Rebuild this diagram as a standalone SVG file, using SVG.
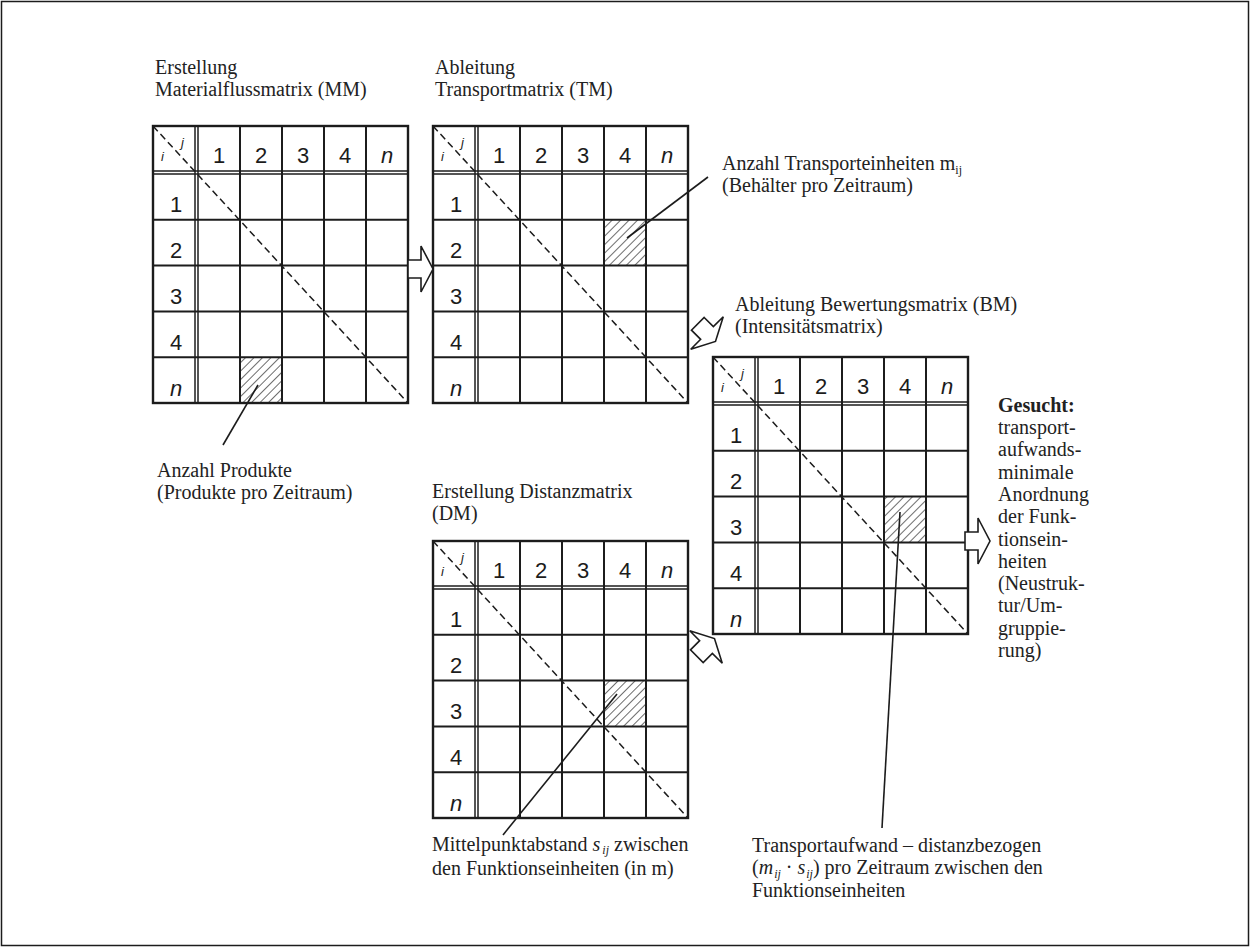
<svg xmlns="http://www.w3.org/2000/svg" xmlns:xlink="http://www.w3.org/1999/xlink" width="1250" height="947" viewBox="0 0 1250 947">
<style>
.grid{fill:none;stroke:#1c1c1c;stroke-width:2}
.thin{stroke:#1c1c1c;stroke-width:1.5}
.diag{stroke:#1c1c1c;stroke-width:1.5;stroke-dasharray:7 4;fill:none}
.num{font-family:"Liberation Sans",Arial,sans-serif;font-size:22px;fill:#1c1c1c;text-anchor:middle}
.it{font-style:italic}
.ij{font-family:"Liberation Sans",Arial,sans-serif;font-size:13px;font-style:italic;fill:#1c1c1c}
.lbl{font-family:"Liberation Serif","Times New Roman",serif;font-size:20px;fill:#222}
.sub{font-size:12px;font-style:italic}
.lead{stroke:#1c1c1c;stroke-width:1.6;fill:none}
.barrow{fill:#fff;stroke:#1c1c1c;stroke-width:1.6;stroke-linejoin:miter}
.hatch{fill:url(#hp);stroke:none}
</style>
<defs>
<pattern id="hp" patternUnits="userSpaceOnUse" width="6" height="6" patternTransform="rotate(45)">
<line x1="0" y1="0" x2="0" y2="6" stroke="#1c1c1c" stroke-width="1.3"/>
</pattern>
<path id="barr" d="M-13,-9 L0,-9 L0,-23 L12,0 L0,23 L0,9 L-13,9 Z"/>
<g id="mx">
<rect x="0" y="0" width="255" height="277" fill="#fff" stroke="none"/>
<g class="thin">
<line x1="42" y1="0" x2="42" y2="277"/>
<line x1="45" y1="0" x2="45" y2="277"/>
<line x1="0" y1="45" x2="255" y2="45"/>
<line x1="0" y1="48" x2="255" y2="48"/>
</g>
<g class="grid">
<line x1="87" y1="0" x2="87" y2="277"/>
<line x1="129" y1="0" x2="129" y2="277"/>
<line x1="171" y1="0" x2="171" y2="277"/>
<line x1="213" y1="0" x2="213" y2="277"/>
<line x1="0" y1="93.8" x2="255" y2="93.8"/>
<line x1="0" y1="139.6" x2="255" y2="139.6"/>
<line x1="0" y1="185.4" x2="255" y2="185.4"/>
<line x1="0" y1="231.2" x2="255" y2="231.2"/>
<rect x="0" y="0" width="255" height="277" stroke-width="2.4"/>
</g>
<line class="diag" x1="0" y1="0" x2="255" y2="277"/>
<text class="ij" x="28" y="21">j</text>
<text class="ij" x="8" y="35">i</text>
<text class="num" x="66" y="37">1</text>
<text class="num" x="108" y="37">2</text>
<text class="num" x="150" y="37">3</text>
<text class="num" x="192" y="37">4</text>
<text class="num it" x="234" y="37">n</text>
<text class="num" x="23" y="86">1</text>
<text class="num" x="23" y="132">2</text>
<text class="num" x="23" y="178">3</text>
<text class="num" x="23" y="224">4</text>
<text class="num it" x="23" y="270">n</text>
</g>
</defs>
<rect x="1.5" y="1.5" width="1247" height="944" fill="#fff" stroke="#1c1c1c" stroke-width="1.5"/>

<g id="mm">
<use xlink:href="#mx" href="#mx" x="153" y="126"/>
<rect class="hatch" x="240" y="357.2" width="42" height="45.8"/>
<text class="lbl" x="155" y="74">Erstellung</text>
<text class="lbl" x="155" y="96">Materialflussmatrix (MM)</text>
</g>

<g id="tm">
<use xlink:href="#mx" href="#mx" x="433" y="126"/>
<rect class="hatch" x="604" y="219.8" width="42" height="45.8"/>
<text class="lbl" x="435" y="74">Ableitung</text>
<text class="lbl" x="435" y="96">Transportmatrix (TM)</text>
</g>

<g id="bm">
<use xlink:href="#mx" href="#mx" x="713" y="357"/>
<rect class="hatch" x="884" y="496.6" width="42" height="45.8"/>
<text class="lbl" x="735" y="311">Ableitung Bewertungsmatrix (BM)</text>
<text class="lbl" x="735" y="333">(Intensitätsmatrix)</text>
</g>

<g id="dm">
<use xlink:href="#mx" href="#mx" x="433" y="541"/>
<rect class="hatch" x="604" y="680.6" width="42" height="45.8"/>
<text class="lbl" x="432" y="498">Erstellung Distanzmatrix</text>
<text class="lbl" x="432" y="520">(DM)</text>
</g>

<g id="note-mm">
<text class="lbl" x="157" y="477">Anzahl Produkte</text>
<text class="lbl" x="157" y="499">(Produkte pro Zeitraum)</text>
</g>

<g id="note-tm">
<text class="lbl" x="722" y="170">Anzahl Transporteinheiten m<tspan class="sub" style="font-style:normal" dy="4">ij</tspan></text>
<text class="lbl" x="722" y="192">(Behälter pro Zeitraum)</text>
</g>

<g id="note-dm">
<text class="lbl" x="432" y="851">Mittelpunktabstand <tspan font-style="italic">s</tspan><tspan class="sub" dx="2" dy="3">ij</tspan><tspan dy="-3"> zwischen</tspan></text>
<text class="lbl" x="432" y="875">den Funktionseinheiten (in m)</text>
</g>

<g id="note-bm">
<text class="lbl" x="752" y="852">Transportaufwand – distanzbezogen</text>
<text class="lbl" x="752" y="874">(<tspan font-style="italic">m</tspan><tspan class="sub" dx="1" dy="4">ij</tspan><tspan dy="-4"> · </tspan><tspan font-style="italic">s</tspan><tspan class="sub" dx="1" dy="4">ij</tspan><tspan dy="-4">) pro Zeitraum zwischen den</tspan></text>
<text class="lbl" x="752" y="897">Funktionseinheiten</text>
</g>

<g id="result">
<text class="lbl" x="998" y="412" font-weight="bold">Gesucht:</text>
<text class="lbl" x="998" y="434">transport-</text>
<text class="lbl" x="998" y="456">aufwands-</text>
<text class="lbl" x="998" y="479">minimale</text>
<text class="lbl" x="998" y="501">Anordnung</text>
<text class="lbl" x="998" y="523">der Funk-</text>
<text class="lbl" x="998" y="546">tionsein-</text>
<text class="lbl" x="998" y="568">heiten</text>
<text class="lbl" x="998" y="590">(Neustruk-</text>
<text class="lbl" x="998" y="612">tur/Um-</text>
<text class="lbl" x="998" y="635">gruppie-</text>
<text class="lbl" x="998" y="657">rung)</text>
</g>

<g id="connectors">
<use xlink:href="#barr" href="#barr" class="barrow" transform="translate(421,269)"/>
<use xlink:href="#barr" href="#barr" class="barrow" transform="translate(707,333) rotate(45)"/>
<use xlink:href="#barr" href="#barr" class="barrow" transform="translate(706,647) rotate(-45)"/>
<use xlink:href="#barr" href="#barr" class="barrow" transform="translate(978,541)"/>
<line class="lead" x1="258" y1="385" x2="223" y2="445"/>
<line class="lead" x1="627" y1="238" x2="708" y2="177"/>
<line class="lead" x1="900" y1="512" x2="882" y2="828"/>
<line class="lead" x1="617" y1="694" x2="503" y2="835"/>
</g>
</svg>
